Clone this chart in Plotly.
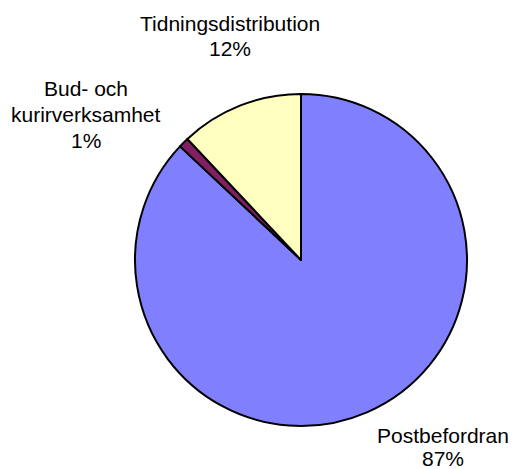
import plotly.graph_objects as go

labels = ["Postbefordran", "Bud- och kurirverksamhet", "Tidningsdistribution"]
values = [87, 1, 12]
colors = ["#8080FF", "#802060", "#FFFFC0"]
label_lines = [["Postbefordran", "87%"], ["Bud- och", "kurirverksamhet", "1%"], ["Tidningsdistribution", "12%"]]

W, H = 513, 469
cx, cy, r = 301, 260, 166

fig = go.Figure(go.Pie(
    labels=labels, values=values, sort=False, direction="clockwise", rotation=0,
    marker=dict(colors=colors, line=dict(color="black", width=2)),
    textinfo="none", hoverinfo="label+percent", showlegend=False,
    domain=dict(x=[(cx - r) / W, (cx + r) / W], y=[1 - (cy + r) / H, 1 - (cy - r) / H]),
))

# (center x, first-line center y, line spacing) in pixels
ann_pos = [(443, 435, 23), (86, 88, 26), (230, 23, 26)]
for lines, (px, py, dy) in zip(label_lines, ann_pos):
    for i, line in enumerate(lines):
        fig.add_annotation(text=line, x=px / W, y=1 - (py + i * dy) / H, xref="paper", yref="paper",
                           showarrow=False, xanchor="center", yanchor="middle",
                           font=dict(family="Liberation Sans, Arial", size=21, color="black"))

fig.update_layout(width=W, height=H, margin=dict(l=0, r=0, t=0, b=0),
                  paper_bgcolor="white", plot_bgcolor="white")
fig.write_html("out.html", config={"displayModeBar": False},
               post_script="document.body.style.margin='0';document.body.style.overflow='hidden';")
